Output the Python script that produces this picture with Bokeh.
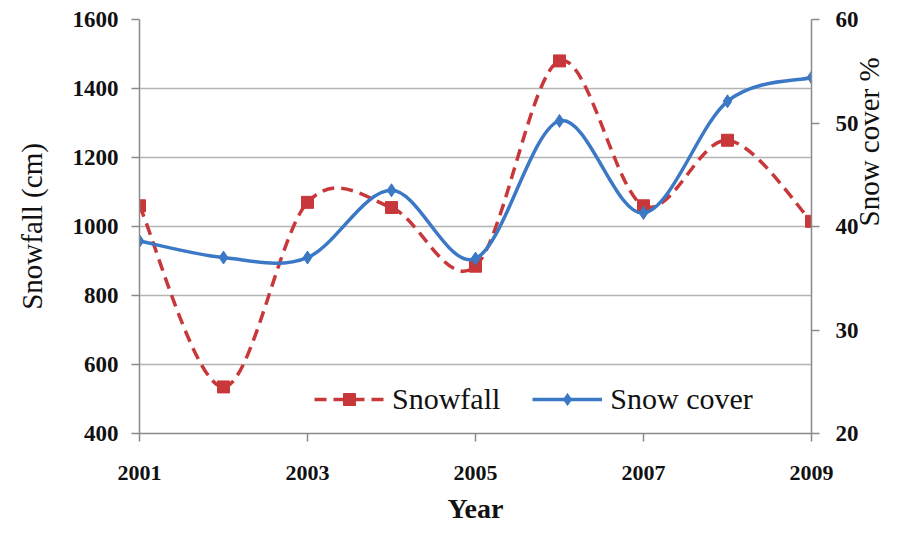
import math
from bokeh.plotting import figure
from bokeh.models import Range1d, LinearAxis, FixedTicker, Legend, LegendItem, Grid
from bokeh.embed import file_html
from bokeh.resources import INLINE

years = [2001, 2002, 2003, 2004, 2005, 2006, 2007, 2008, 2009]
snowfall = [1060, 535, 1070, 1055, 885, 1480, 1060, 1250, 1015]
snow_cover = [38.6, 37.0, 37.0, 43.5, 36.9, 50.2, 41.3, 52.1, 54.4]
x_ticks = [2001, 2003, 2005, 2007, 2009]
left_ticks = [400, 600, 800, 1000, 1200, 1400, 1600]
right_ticks = [20, 30, 40, 50, 60]

RED = "#c8383a"
BLUE = "#3b78c6"
FONT = "Liberation Serif"


def smooth_segments(xs, ys):
    """Bezier control points for a smoothed (Catmull-Rom style) line through the data."""
    n = len(xs)
    segs = dict(x0=[], y0=[], x1=[], y1=[], cx0=[], cy0=[], cx1=[], cy1=[])
    for i in range(n - 1):
        ip = max(i - 1, 0)
        inx = min(i + 2, n - 1)
        segs["x0"].append(xs[i]); segs["y0"].append(ys[i])
        segs["x1"].append(xs[i + 1]); segs["y1"].append(ys[i + 1])
        segs["cx0"].append(xs[i] + (xs[i + 1] - xs[ip]) / 6.0)
        segs["cy0"].append(ys[i] + (ys[i + 1] - ys[ip]) / 6.0)
        segs["cx1"].append(xs[i + 1] - (xs[inx] - xs[i]) / 6.0)
        segs["cy1"].append(ys[i + 1] - (ys[inx] - ys[i]) / 6.0)
    return segs


p = figure(width=903, height=526, output_backend="svg", toolbar_location=None,
           x_range=Range1d(2001, 2009), y_range=Range1d(400, 1600),
           x_axis_location=None, y_axis_location=None,
           min_border_left=139, min_border_right=92,
           min_border_top=19, min_border_bottom=93)
p.extra_y_ranges = {"cover": Range1d(20, 60)}
p.outline_line_color = None
p.background_fill_color = "white"
p.border_fill_color = "white"

# axes
xaxis = LinearAxis(ticker=FixedTicker(ticks=x_ticks), axis_label="Year")
yaxis = LinearAxis(ticker=FixedTicker(ticks=left_ticks), axis_label="Snowfall (cm)")
raxis = LinearAxis(ticker=FixedTicker(ticks=right_ticks), axis_label="Snow cover %",
                   y_range_name="cover")
for ax in (xaxis, yaxis, raxis):
    ax.axis_line_color = "#8a8a8a"
    ax.axis_line_width = 1.5
    ax.major_tick_line_color = "#8a8a8a"
    ax.major_tick_line_width = 1.5
    ax.major_tick_in = 0
    ax.major_tick_out = 8
    ax.minor_tick_line_color = None
    ax.major_label_text_font = FONT
    ax.major_label_text_font_style = "bold"
    ax.major_label_text_font_size = "23px"
    ax.major_label_text_color = "#111111"
    ax.axis_label_text_font = FONT
    ax.axis_label_text_color = "#111111"
    ax.axis_label_text_font_size = "29px"
    ax.axis_label_text_font_style = "normal"

xaxis.major_label_text_font_size = "22px"
xaxis.major_label_standoff = 24
xaxis.axis_label_standoff = 10
xaxis.axis_label_text_font_style = "bold"
xaxis.axis_label_text_font_size = "28px"
yaxis.major_label_standoff = 13
yaxis.axis_label_standoff = 22
raxis.major_label_standoff = 16
raxis.axis_label_standoff = 7
raxis.axis_label_orientation = math.pi / 2

p.add_layout(xaxis, "below")
p.add_layout(yaxis, "left")
p.add_layout(raxis, "right")

p.center = [c for c in p.center if not isinstance(c, Grid)]
p.add_layout(Grid(dimension=1, ticker=FixedTicker(ticks=left_ticks),
                  grid_line_color="#b4b4b4", grid_line_width=1.5), "center")

# smoothed curves
sf = smooth_segments(years, snowfall)
sc = smooth_segments(years, snow_cover)
r_sf = p.bezier(source=sf, x0="x0", y0="y0", x1="x1", y1="y1", cx0="cx0", cy0="cy0",
                cx1="cx1", cy1="cy1", line_color=RED, line_width=3.5, line_dash="12 7")
m_sf = p.scatter(years, snowfall, marker="square", size=12, color=RED)

r_sc = p.bezier(source=sc, x0="x0", y0="y0", x1="x1", y1="y1", cx0="cx0", cy0="cy0",
                cx1="cx1", cy1="cy1", line_color=BLUE, line_width=3.5, y_range_name="cover")
m_sc = p.scatter(years, snow_cover, marker="diamond", size=13, color=BLUE, y_range_name="cover")

legend = Legend(items=[LegendItem(label="Snowfall", renderers=[r_sf, m_sf]),
                       LegendItem(label="Snow cover", renderers=[r_sc, m_sc])],
                orientation="horizontal", location=(175, 17),
                glyph_width=70, glyph_height=30, label_standoff=8, spacing=32,
                padding=6, margin=0, border_line_color=None,
                background_fill_color="white", background_fill_alpha=1.0,
                label_text_font=FONT, label_text_font_size="30px",
                label_text_color="#111111")
p.add_layout(legend, "center")

open("out.html", "w").write(file_html(p, INLINE))
